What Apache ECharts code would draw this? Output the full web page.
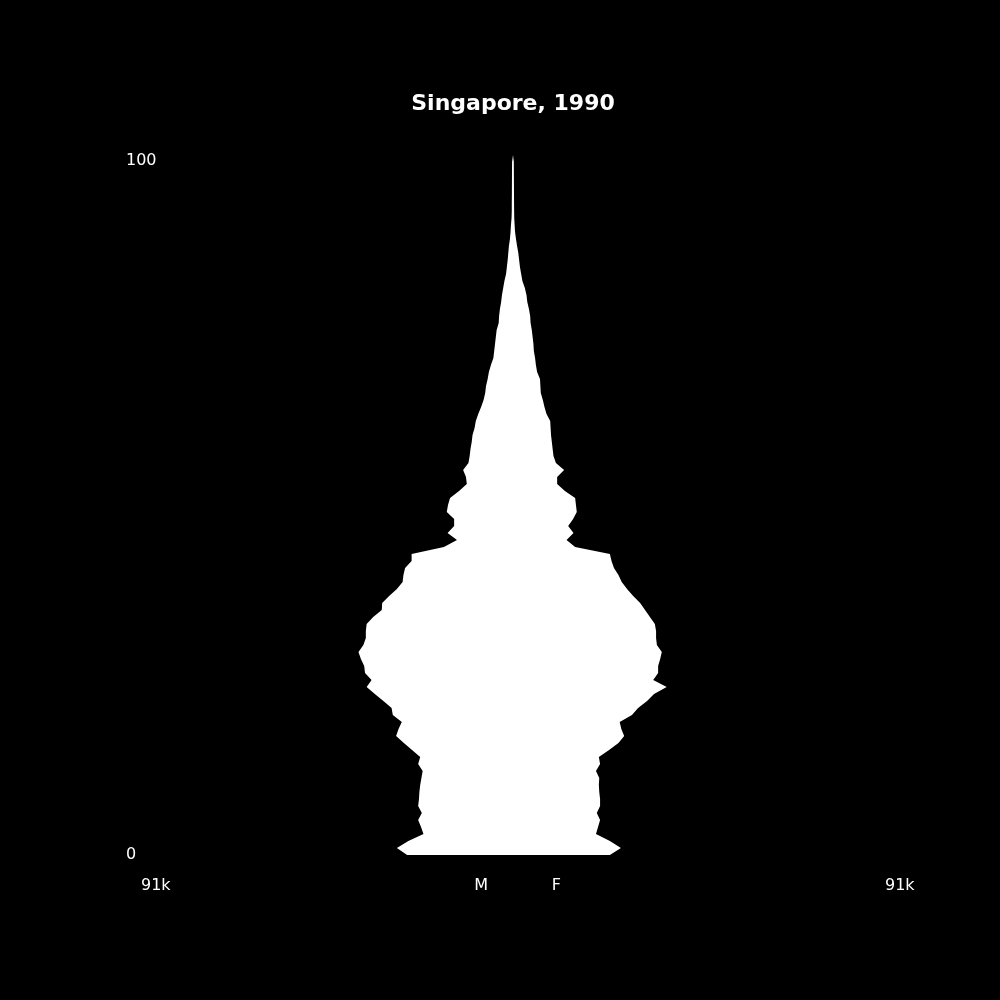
<!DOCTYPE html>
<html>
<head>
<meta charset="utf-8">
<script src="https://cdn.jsdelivr.net/npm/echarts@6/dist/echarts.min.js"></script>
<style>
  html, body { margin: 0; background: #000; }
  #chart { width: 1000px; height: 1000px; }
</style>
</head>
<body>
<div id="chart"></div>
<script>
const ages = [
  0, 1, 2, 3, 4, 5, 6, 7, 8, 9, 10, 11, 12, 13, 14, 15, 16, 17, 18, 19,
  20, 21, 22, 23, 24, 25, 26, 27, 28, 29, 30, 31, 32, 33, 34, 35, 36, 37, 38, 39,
  40, 41, 42, 43, 44, 45, 46, 47, 48, 49, 50, 51, 52, 53, 54, 55, 56, 57, 58, 59,
  60, 61, 62, 63, 64, 65, 66, 67, 68, 69, 70, 71, 72, 73, 74, 75, 76, 77, 78, 79,
  80, 81, 82, 83, 84, 85, 86, 87, 88, 89, 90, 91, 92, 93, 94, 95, 96, 97, 98, 99, 100
];

// population in thousands, by single year of age
const male = [
  25.9, 28.4, 25.6, 21.9, 22.5, 23.2, 22.3, 23.2, 23.0, 22.9,
  22.7, 22.4, 22.1, 23.2, 22.7, 24.7, 26.7, 28.6, 28.0, 27.2,
  29.4, 29.7, 31.7, 33.8, 35.8, 34.6, 36.2, 36.4, 37.2, 37.8,
  36.6, 36.0, 36.0, 35.8, 34.2, 32.1, 32.0, 30.3, 28.4, 27.0,
  26.8, 26.4, 24.8, 24.8, 16.9, 13.7, 16.0, 14.4, 14.4, 16.2,
  15.9, 15.4, 13.2, 11.3, 11.5, 12.2, 10.9, 10.6, 10.4, 10.1,
  9.9, 9.4, 9.1, 8.5, 7.8, 7.2, 6.8, 6.6, 6.2, 5.9,
  5.4, 4.8, 4.6, 4.4, 4.2, 4.0, 3.5, 3.4, 3.2, 2.9,
  2.7, 2.4, 2.1, 1.7, 1.5, 1.3, 1.15, 1.0, 0.75, 0.6,
  0.5, 0.35, 0.3, 0.3, 0.28, 0.27, 0.26, 0.25, 0.24, 0.23, 0.22
];

const female = [
  23.7, 26.4, 23.7, 20.3, 20.8, 21.3, 20.5, 21.3, 21.3, 21.1,
  21.0, 21.1, 20.3, 21.3, 21.0, 23.5, 25.8, 27.2, 26.5, 26.1,
  29.1, 30.6, 32.8, 34.5, 37.6, 34.3, 35.5, 35.5, 36.0, 36.4,
  35.2, 35.0, 35.0, 34.7, 33.5, 32.3, 31.1, 29.4, 27.9, 26.6,
  25.8, 24.7, 24.1, 23.7, 15.2, 13.1, 14.8, 13.5, 14.7, 15.6,
  15.4, 15.2, 12.7, 10.8, 10.8, 12.5, 10.5, 9.9, 9.7, 9.5,
  9.3, 9.2, 9.1, 8.2, 7.7, 7.3, 6.8, 6.7, 6.6, 5.9,
  5.6, 5.4, 5.1, 5.0, 4.8, 4.6, 4.3, 4.2, 3.9, 3.5,
  3.3, 2.9, 2.3, 2.0, 1.7, 1.5, 1.3, 1.0, 0.73, 0.5,
  0.4, 0.3, 0.28, 0.26, 0.25, 0.24, 0.23, 0.22, 0.21, 0.2, 0.2
];

const xMax = 91;
const xTicks = [-91, -9.5, 9.5, 91];
const xTickText = ['91k', 'M', 'F', '91k'];

const font = 'DejaVu Sans';

const chart = echarts.init(document.getElementById('chart'), null, { renderer: 'canvas' });

const option = {
  backgroundColor: '#000',
  animation: false,
  title: {
    text: 'Singapore, 1990',
    left: 513,
    textAlign: 'center',
    top: 93,
    padding: 0,
    textStyle: { color: '#fff', fontSize: 22, fontWeight: 'bold', fontFamily: font }
  },
  grid: { left: 141, right: 115, top: 155, bottom: 145 },
  xAxis: {
    type: 'value',
    min: -xMax,
    max: xMax,
    splitLine: { show: false },
    axisLine: { show: false },
    axisTick: { show: false },
    axisLabel: {
      customValues: xTicks,
      formatter: function (v) {
        return xTickText[xTicks.indexOf(v)];
      },
      color: '#fff',
      fontSize: 16,
      fontFamily: font,
      align: 'left',
      margin: 23
    }
  },
  yAxis: {
    type: 'category',
    data: ages,
    boundaryGap: false,
    splitLine: { show: false },
    axisLine: { show: false },
    axisTick: { show: false },
    axisLabel: {
      interval: function (i) { return i === 0 || i === ages.length - 1; },
      formatter: function (v) {
        return v === '100' ? '{t|100}' : v;
      },
      rich: {
        t: { padding: [12, 0, 0, 0], color: '#fff', fontSize: 16, fontFamily: font }
      },
      color: '#fff',
      fontSize: 16,
      fontFamily: font,
      align: 'left',
      margin: 15
    }
  },
  series: [
    {
      name: 'M',
      type: 'line',
      data: male.map(v => -v),
      symbol: 'none',
      silent: true,
      lineStyle: { width: 0 },
      areaStyle: { color: '#fff', opacity: 1 }
    },
    {
      name: 'F',
      type: 'line',
      data: female,
      symbol: 'none',
      silent: true,
      lineStyle: { width: 0 },
      areaStyle: { color: '#fff', opacity: 1 }
    }
  ]
};

chart.setOption(option);
</script>
</body>
</html>
